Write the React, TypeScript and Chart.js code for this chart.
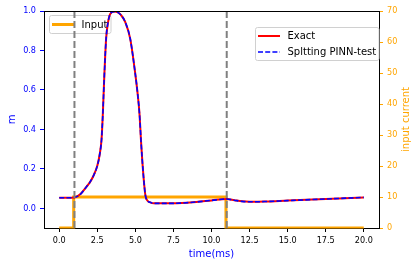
import React, { useEffect, useRef } from 'react';
import { Chart, registerables } from 'chart.js';

Chart.register(...registerables);

// ---- data ----
const timeMs = [
  0.0, 0.5, 1.0, 1.4, 1.8, 2.0, 2.25, 2.5, 2.65, 2.78, 2.87, 2.95, 3.08, 3.2, 3.35, 3.6, 3.85, 4.05,
  4.33, 4.66, 4.98, 5.15, 5.27, 5.38, 5.53, 5.66, 5.8, 5.97, 6.2, 7.5, 9.0, 10.0, 11.0, 11.5, 12.0,
  12.5, 13.5, 15.0, 17.5, 20.0,
];
const mExact = [
  0.053, 0.053, 0.055, 0.072, 0.11, 0.13, 0.165, 0.215, 0.27, 0.35, 0.49, 0.65, 0.86, 0.94, 0.985,
  0.997, 0.993, 0.98, 0.945, 0.86, 0.69, 0.58, 0.48, 0.33, 0.165, 0.065, 0.038, 0.03, 0.025, 0.025,
  0.032, 0.04, 0.047, 0.041, 0.035, 0.033, 0.034, 0.039, 0.047, 0.055,
];
const mPinn = [
  0.053, 0.053, 0.055, 0.072, 0.11, 0.13, 0.165, 0.215, 0.27, 0.35, 0.49, 0.65, 0.86, 0.94, 0.985,
  0.997, 0.993, 0.98, 0.945, 0.86, 0.69, 0.58, 0.48, 0.33, 0.165, 0.065, 0.038, 0.03, 0.025, 0.025,
  0.032, 0.04, 0.047, 0.041, 0.035, 0.033, 0.034, 0.039, 0.047, 0.055,
];
const inputTime = [0, 0.95, 0.95, 10.95, 10.95, 20];
const inputCurrent = [0, 0, 10, 10, 0, 0];
const stimTimes = [1, 11];
const xTicks = [0, 2.5, 5, 7.5, 10, 12.5, 15, 17.5, 20];
const mTicks = [0, 0.2, 0.4, 0.6, 0.8, 1.0];
const currentTicks = [0, 10, 20, 30, 40, 50, 60, 70];

const FONT = "'DejaVu Sans', sans-serif";
const TICKFONT = "'DejaVu Sans Condensed', 'DejaVu Sans', sans-serif";

const toPts = (xs: number[], ys: number[]) => xs.map((x, i) => ({ x, y: ys[i] }));

function drawLegendBox(
  ctx: CanvasRenderingContext2D,
  x: number,
  y: number,
  w: number,
  h: number
) {
  ctx.save();
  ctx.beginPath();
  (ctx as any).roundRect(x, y, w, h, 2);
  ctx.fillStyle = 'rgba(255,255,255,0.8)';
  ctx.fill();
  ctx.strokeStyle = '#d0d0d0';
  ctx.lineWidth = 1;
  ctx.stroke();
  ctx.restore();
}

function drawEntry(
  ctx: CanvasRenderingContext2D,
  x: number,
  y: number,
  color: string,
  width: number,
  dash: number[],
  label: string
) {
  ctx.save();
  ctx.beginPath();
  ctx.setLineDash(dash);
  ctx.strokeStyle = color;
  ctx.lineWidth = width;
  ctx.moveTo(x, y);
  ctx.lineTo(x + 22, y);
  ctx.stroke();
  ctx.setLineDash([]);
  ctx.fillStyle = '#000';
  ctx.font = `10px ${FONT}`;
  ctx.textBaseline = 'middle';
  ctx.textAlign = 'left';
  ctx.fillText(label, x + 29.5, y + 0.5);
  ctx.restore();
}

const mplPlugin = {
  id: 'mplDecor',
  beforeDatasetsDraw(chart: any) {
    const ctx = chart.ctx as CanvasRenderingContext2D;
    const a = chart.chartArea;
    // upper-left legend (Input)
    drawLegendBox(ctx, a.left + 5.5, a.top + 4.5, 61.5, 18);
    drawEntry(ctx, a.left + 8, a.top + 13.5, 'orange', 3, [], 'Input');
    // upper-right legend
    drawLegendBox(ctx, a.right - 123.5, a.top + 16.5, 123.5, 33);
    drawEntry(ctx, a.right - 121, a.top + 25, 'red', 2, [], 'Exact');
    drawEntry(ctx, a.right - 121, a.top + 41, 'blue', 1.6, [5, 2.2], 'Spltting PINN-test');
  },
  afterDraw(chart: any) {
    const ctx = chart.ctx as CanvasRenderingContext2D;
    const a = chart.chartArea;
    ctx.save();
    ctx.strokeStyle = '#000';
    ctx.lineWidth = 1;
    ctx.beginPath();
    ctx.moveTo(Math.round(a.left), Math.round(a.top) + 0.5);
    ctx.lineTo(Math.round(a.right) + 1, Math.round(a.top) + 0.5);
    ctx.stroke();
    // right axis title, reading bottom-to-top as in the reference
    ctx.translate(chart.width - 13, (a.top + a.bottom) / 2);
    ctx.rotate(-Math.PI / 2);
    ctx.fillStyle = 'orange';
    ctx.font = `10px ${FONT}`;
    ctx.textAlign = 'center';
    ctx.textBaseline = 'middle';
    ctx.fillText('input current', 0, 0);
    ctx.restore();
  },
};

export default function App() {
  const ref = useRef<HTMLCanvasElement>(null);

  useEffect(() => {
    if (!ref.current) return;
    const vlineSets = stimTimes.map((t) => ({
      label: 'stim',
      data: [
        { x: t, y: -0.1 },
        { x: t, y: 1.0 },
      ],
      borderColor: '#808080',
      borderWidth: 2,
      borderDash: [7, 3],
      pointRadius: 0,
      yAxisID: 'y',
      order: 0,
      clip: 0,
    }));
    const chart = new Chart(ref.current, {
      type: 'line',
      data: {
        datasets: [
          {
            label: 'Input',
            data: toPts(inputTime, inputCurrent),
            borderColor: 'orange',
            borderWidth: 3,
            pointRadius: 0,
            tension: 0,
            yAxisID: 'y1',
            order: 3,
            clip: 0.5,
          },
          {
            label: 'Exact',
            data: toPts(timeMs, mExact),
            borderColor: 'red',
            borderWidth: 2,
            pointRadius: 0,
            cubicInterpolationMode: 'monotone',
            yAxisID: 'y',
            order: 2,
          },
          {
            label: 'Spltting PINN-test',
            data: toPts(timeMs, mPinn),
            borderColor: 'blue',
            borderWidth: 1.6,
            borderDash: [5, 2.2],
            pointRadius: 0,
            cubicInterpolationMode: 'monotone',
            yAxisID: 'y',
            order: 1,
          },
          ...vlineSets,
        ] as any,
      },
      options: {
        responsive: false,
        animation: false,
        events: [],
        layout: { padding: { top: 11, left: 0, right: 0, bottom: 0 } },
        plugins: { legend: { display: false }, tooltip: { enabled: false } },
        scales: {
          x: {
            type: 'linear',
            min: -1,
            max: 21,
            afterBuildTicks: (s: any) => {
              s.ticks = xTicks.map((v) => ({ value: v }));
            },
            afterFit: (s: any) => {
              s.height = 38;
            },
            ticks: {
              color: '#000',
              font: { family: TICKFONT, size: 9 },
              padding: 3,
              maxRotation: 0,
              autoSkip: false,
              callback: (v: any) => Number(v).toFixed(1),
            },
            grid: { drawOnChartArea: false, tickLength: 4, tickColor: '#000' },
            border: { color: '#000' },
            title: {
              display: true,
              text: 'time(ms)',
              color: 'blue',
              font: { family: FONT, size: 10 },
              padding: { top: 0, bottom: 6 },
            },
          },
          y: {
            type: 'linear',
            position: 'left',
            min: -0.1,
            max: 1.0,
            afterBuildTicks: (s: any) => {
              s.ticks = mTicks.map((v) => ({ value: v }));
            },
            afterFit: (s: any) => {
              s.width = 44;
            },
            ticks: {
              color: 'blue',
              font: { family: TICKFONT, size: 9 },
              padding: 4,
              callback: (v: any) => Number(v).toFixed(1),
            },
            grid: { drawOnChartArea: false, tickLength: 4, tickColor: 'blue' },
            border: { color: '#000' },
            title: {
              display: true,
              text: 'm',
              color: 'blue',
              font: { family: FONT, size: 10 },
              padding: { top: 6, bottom: 0 },
            },
          },
          y1: {
            type: 'linear',
            position: 'right',
            min: 0,
            max: 70,
            afterBuildTicks: (s: any) => {
              s.ticks = currentTicks.map((v) => ({ value: v }));
            },
            afterFit: (s: any) => {
              s.width = 40;
            },
            ticks: {
              color: 'orange',
              font: { family: TICKFONT, size: 9 },
              padding: 4,
            },
            grid: { drawOnChartArea: false, tickLength: 4, tickColor: 'orange' },
            border: { color: '#000' },
            title: { display: false },
          },
        },
      } as any,
      plugins: [mplPlugin],
    });
    return () => chart.destroy();
  }, []);

  return (
    <div style={{ position: 'fixed', left: 0, top: 0, width: 419, height: 266, background: '#fff' }}>
      <canvas ref={ref} width={419} height={266} style={{ display: 'block' }} />
    </div>
  );
}
